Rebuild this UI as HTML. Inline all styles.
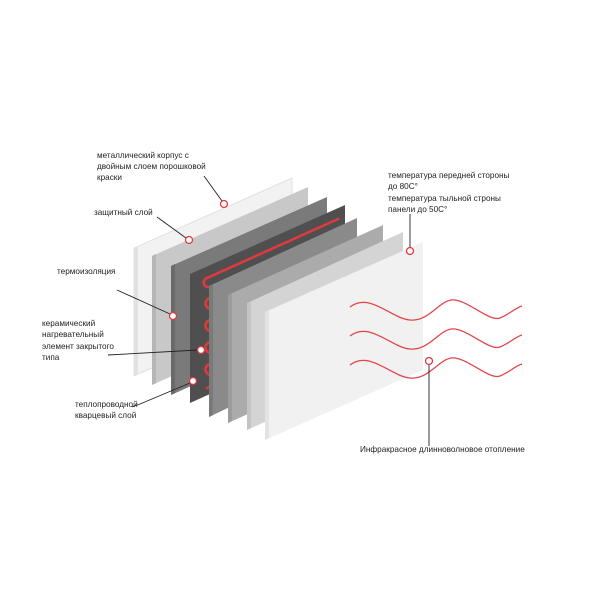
<!DOCTYPE html>
<html><head><meta charset="utf-8"><style>
html,body{margin:0;padding:0;background:#fff;}
svg{display:block}
text{font-family:"Liberation Sans","DejaVu Sans",sans-serif;font-size:8.2px;fill:#222;}
</style></head><body>
<svg width="600" height="600" viewBox="0 0 600 600" xmlns="http://www.w3.org/2000/svg">
<rect width="600" height="600" fill="#fff"/>
<g>
<polygon points="134,248 292,178 292,306 134,376" fill="#f2f2f2" stroke="#dcdcdc" stroke-width="0.8"/>
<polygon points="134,248 138,246 138,374 134,376" fill="#e2e2e2"/>
<polygon points="152,256 308,187 308,315 152,385" fill="#c8c8c8"/>
<polygon points="152,256 156,254 156,383 152,385" fill="#b5b5b5"/>
<polygon points="171,266 327,197 327,325 171,395" fill="#7a7a7a"/>
<polygon points="171,266 175,264 175,393 171,395" fill="#6a6a6a"/>
<polygon points="190,274 345,205 345,333 190,403" fill="#4f4f4f"/>
<g fill="none" stroke="#e0393e" stroke-width="2.6" stroke-linecap="round">
<path d="M338,219 L207,278 A4.5,4.5 0 0 0 210,287 L335,231"/>
<path d="M211,298 a5,5 0 0 0 0,11"/>
<path d="M211,320 a5,5 0 0 0 0,11"/>
<path d="M211,342 a5,5 0 0 0 0,11"/>
<path d="M211,364 a5,5 0 0 0 0,11"/>
<path d="M207,388 l4,-2"/>
</g>
<polygon points="209,286 357,218 357,346 209,417" fill="#8a8a8a"/>
<polygon points="209,286 213,284 213,415 209,417" fill="#7a7a7a"/>
<polygon points="228,295 383,225 383,353 228,423" fill="#ababab"/>
<polygon points="228,295 232,293 232,421 228,423" fill="#9c9c9c"/>
<polygon points="247,303 403,232 403,360 247,430" fill="#d4d4d4"/>
<polygon points="247,303 251,301 251,428 247,430" fill="#c4c4c4"/>
<polygon points="265,312 423,242 423,370 265,440" fill="#f1f1f1"/>
<polygon points="265,312 269,310 269,438 265,440" fill="#e3e3e3"/>
</g>
<g fill="none" stroke="#e0454a" stroke-width="1.3">
<path d="M350,307 C370,292 390,318 410,320 C430,322 440,298 455,300 C470,302 490,322 500,318 C510,314 515,308 522,306"/>
<path d="M350,336 C370,321 390,347 410,349 C430,351 440,327 455,329 C470,331 490,351 500,347 C510,343 515,337 522,335"/>
<path d="M350,365 C370,350 390,376 410,378 C430,380 440,356 455,358 C470,360 490,380 500,376 C510,372 515,366 522,364"/>
</g>
<g stroke="#222" stroke-width="0.9" fill="none">
<line x1="204" y1="176" x2="222" y2="201"/>
<line x1="157" y1="217" x2="186" y2="238"/>
<line x1="117" y1="290" x2="170" y2="314"/>
<line x1="108" y1="355" x2="198" y2="350"/>
<polyline points="132,407 140,404 190,383"/>
<line x1="410" y1="214" x2="410" y2="247"/>
<line x1="429" y1="365" x2="429" y2="446"/>
</g>
<g fill="#fff" stroke="#e0393e" stroke-width="1.3">
<circle cx="224" cy="204" r="3.5"/>
<circle cx="189" cy="240" r="3.5"/>
<circle cx="173" cy="316" r="3.5"/>
<circle cx="201" cy="350" r="3.5"/>
<circle cx="193" cy="381" r="3.5"/>
<circle cx="410" cy="251" r="3.5"/>
<circle cx="429" cy="361" r="3.5"/>
</g>
<text x="97" y="158">металлический корпус  с</text>
<text x="97" y="169">двойным слоем порошковой</text>
<text x="97" y="180">краски</text>
<text x="94" y="215">защитный слой</text>
<text x="57" y="274">термоизоляция</text>
<text x="42" y="326">керамический</text>
<text x="42" y="337">нагревательный</text>
<text x="42" y="349">элемент закрытого</text>
<text x="42" y="360">типа</text>
<text x="75" y="407">теплопроводной</text>
<text x="75" y="418">кварцевый слой</text>
<text x="388" y="178">температура передней стороны</text>
<text x="388" y="189">до 80С°</text>
<text x="388" y="201">температура тыльной строны</text>
<text x="388" y="212">панели до 50С°</text>
<text x="360" y="452">Инфракрасное длинноволновое отопление</text>
</svg>
</body></html>
